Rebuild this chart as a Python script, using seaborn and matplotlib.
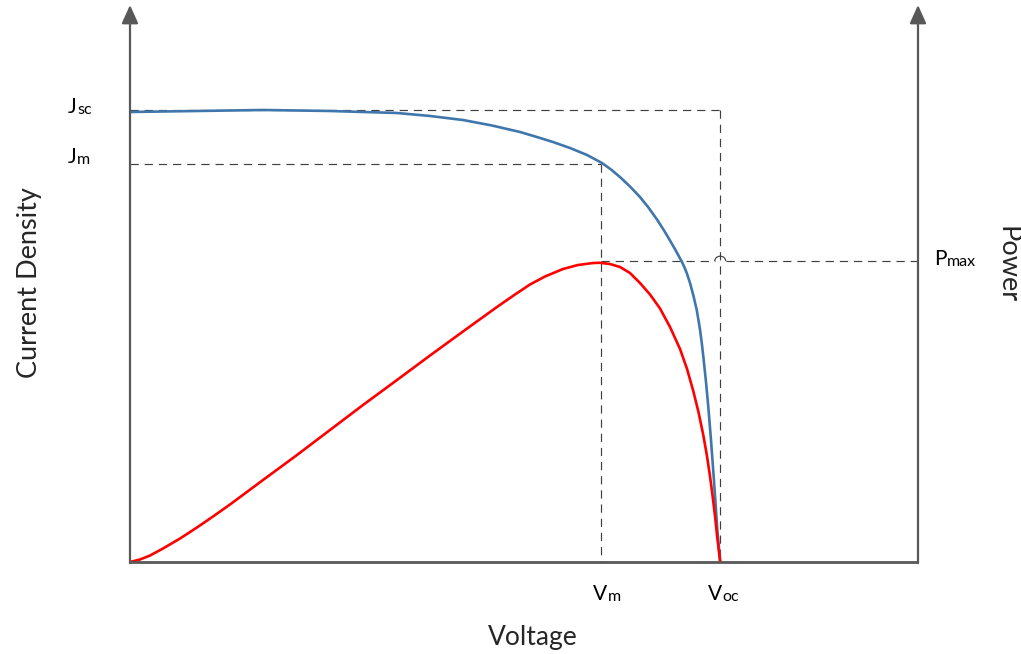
import numpy as np
import pandas as pd
import seaborn as sns
import matplotlib
matplotlib.use("Agg")
import matplotlib.pyplot as plt
from matplotlib.patches import Arc, ArrowStyle

# ---- data (normalised: voltage 0..1 along the axis, current/power 0..1 up the axis)
v_current = [0.0, 0.0419, 0.0850, 0.1269, 0.1688, 0.2119, 0.2538, 0.2957, 0.3388,
             0.3807, 0.4226, 0.4594, 0.4949, 0.5165, 0.5368, 0.5584, 0.5799, 0.5990,
             0.6104, 0.6218, 0.6345, 0.6472, 0.6574, 0.6688, 0.6777, 0.6853, 0.6929,
             0.7005, 0.7037, 0.7065, 0.7107, 0.7151, 0.7192, 0.7214, 0.7236, 0.7256,
             0.7275, 0.7307, 0.7339, 0.7371, 0.7402, 0.7428, 0.7453, 0.7490]
j_current = [0.8123, 0.8132, 0.8141, 0.8150, 0.8159, 0.8150, 0.8141, 0.8123, 0.8105,
             0.8051, 0.7978, 0.7879, 0.7762, 0.7671, 0.7581, 0.7473, 0.7347, 0.7202,
             0.7085, 0.6949, 0.6778, 0.6588, 0.6408, 0.6182, 0.5984, 0.5803, 0.5614,
             0.5415, 0.5316, 0.5217, 0.5036, 0.4801, 0.4549, 0.4368, 0.4170, 0.3953,
             0.3718, 0.3285, 0.2798, 0.2238, 0.1643, 0.1119, 0.0578, 0.0]

v_power = [0.0, 0.0127, 0.0254, 0.0419, 0.0635, 0.0850, 0.1053, 0.1269, 0.1688,
           0.2119, 0.2538, 0.2957, 0.3388, 0.3807, 0.4226, 0.4657, 0.4886, 0.5076,
           0.5266, 0.5495, 0.5685, 0.5876, 0.5964, 0.6091, 0.6218, 0.6345, 0.6472,
           0.6599, 0.6726, 0.6853, 0.6980, 0.7069, 0.7148, 0.7214, 0.7275, 0.7320,
           0.7360, 0.7392, 0.7424, 0.7452, 0.7490]
p_power = [0.0, 0.0045, 0.0117, 0.0244, 0.0424, 0.0623, 0.0821, 0.1038, 0.1480,
           0.1931, 0.2383, 0.2834, 0.3285, 0.3727, 0.4161, 0.4603, 0.4829, 0.5009,
           0.5153, 0.5289, 0.5361, 0.5397, 0.5401, 0.5379, 0.5325, 0.5217, 0.5036,
           0.4829, 0.4576, 0.4242, 0.3845, 0.3484, 0.3087, 0.2708, 0.2292, 0.1931,
           0.1552, 0.1209, 0.0830, 0.0451, 0.0]

V_M, V_OC = 0.598, 0.749
J_SC, J_M, P_MAX = 0.816, 0.718, 0.543

x_label = "Voltage"
y_label = "Current Density"
y2_label = "Power"

sns.set_style("white")
plt.rcParams['font.family'] = ['Lato', 'DejaVu Sans']

fig = plt.figure(figsize=(10.21, 6.54), dpi=100)
ax = fig.add_axes([130 / 1021, (654 - 562) / 654, 788 / 1021, 554 / 654])
ax.set_xlim(0, 1)
ax.set_ylim(0, 1)
ax.axis("off")

dash_kw = dict(color="#404040", lw=0.85, dashes=(7, 5), zorder=1, clip_on=False)
# Jsc dashed
ax.plot([0, V_OC], [J_SC, J_SC], **dash_kw)
ax.plot([V_OC, V_OC], [J_SC, 0], **dash_kw)
# Jm dashed
ax.plot([0, V_M], [J_M, J_M], **dash_kw)
ax.plot([V_M, V_M], [J_M, 0], **dash_kw)
# Pmax dashed with a small jump over the Voc line
gx = 5.5 / 788
ax.plot([V_M, V_OC - gx], [P_MAX, P_MAX], **dash_kw)
ax.plot([V_OC + gx, 1.0], [P_MAX, P_MAX], **dash_kw)
ax.add_patch(Arc((V_OC, P_MAX), 2 * gx, 2 * 5 / 554, theta1=0, theta2=180,
                 color="#404040", lw=0.85, zorder=1))

df_c = pd.DataFrame({"v": v_current, "y": j_current})
df_p = pd.DataFrame({"v": v_power, "y": p_power})
sns.lineplot(data=df_c, x="v", y="y", ax=ax, sort=False, estimator=None,
             color="#3F76AC", lw=1.9, zorder=3, solid_joinstyle="round")
sns.lineplot(data=df_p, x="v", y="y", ax=ax, sort=False, estimator=None,
             color="#FF0000", lw=1.9, zorder=4, solid_joinstyle="round")

# axes with arrows
axis_col = "#585858"
ax.plot([0, 1], [0, 0], color=axis_col, lw=2.0, zorder=5, clip_on=False,
        solid_capstyle="butt")
style = ArrowStyle("-|>", head_length=0.8, head_width=0.36)
for xv in (0, 1):
    ax.annotate("", xy=(xv, 1.0054), xytext=(xv, -0.002),
                xycoords="data", textcoords="data",
                arrowprops=dict(arrowstyle=style, color=axis_col, lw=1.6,
                                shrinkA=0, shrinkB=0, mutation_scale=14),
                annotation_clip=False, zorder=5)

MAIN, SUB = 15, 11.5


def sub_label(x, y, main, sub):
    t = ax.text(x, y, main, fontsize=MAIN, ha="left", va="baseline",
                color="black", clip_on=False)
    ax.annotate(sub, xy=(1, 0), xycoords=t, xytext=(0.5, 0),
                textcoords="offset points", fontsize=SUB, ha="left",
                va="bottom", color="black", annotation_clip=False)


sub_label(-0.079, 0.8105, "J", "sc")
sub_label(-0.079, 0.7211, "J", "m")
sub_label(0.587, -0.0686, "V", "m")
sub_label(0.7335, -0.0686, "V", "oc")
sub_label(1.0203, 0.536, "P", "max")

ax.text(0.511, -0.137, x_label, fontsize=19, ha="center", va="center",
        clip_on=False)
ax.text(-0.127, 0.504, y_label, fontsize=19.5, ha="center", va="center",
        rotation=90, clip_on=False)
ax.text(1.113, 0.536, y2_label, fontsize=19.5, ha="center", va="center",
        rotation=-90, clip_on=False)

fig.savefig("out.png", dpi=100, facecolor="white")
